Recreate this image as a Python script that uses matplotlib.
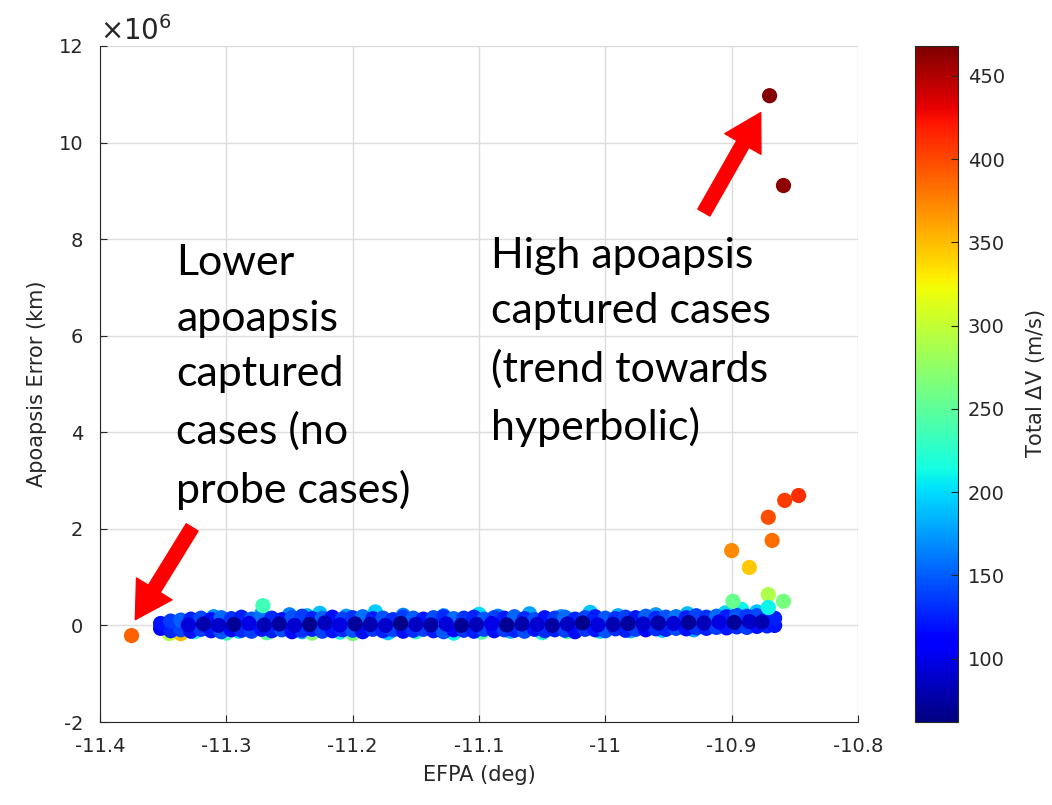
import matplotlib
matplotlib.use("Agg")
import matplotlib.pyplot as plt
from matplotlib.patches import FancyArrowPatch, ArrowStyle
import numpy as np

plt.rcParams["axes.unicode_minus"] = False

# ---- data (EFPA deg, apoapsis error in 1e6 km, total dV m/s) ----
# upper light-blue fringe of the band
x_top = [-11.310, -11.272, -11.250, -11.236, -11.226, -11.205, -11.182, -11.160, -11.128, -11.100,
         -11.085, -11.060, -11.035, -11.012, -10.990, -10.960, -10.935, -10.905, -10.892, -10.880, -10.872]
y_top = [0.18, 0.24, 0.22, 0.20, 0.25, 0.19, 0.28, 0.21, 0.20, 0.23,
         0.19, 0.24, 0.18, 0.27, 0.20, 0.22, 0.24, 0.26, 0.33, 0.28, 0.30]
c_top = [170, 180, 165, 185, 190, 172, 195, 168, 175, 200,
         166, 178, 170, 192, 182, 174, 186, 198, 210, 190, 188]

# lower cyan / green fringe
x_bot = [-11.345, -11.343, -11.338, -11.336, -11.325, -11.300, -11.290, -11.268, -11.240, -11.232,
         -11.210, -11.200, -11.172, -11.150, -11.120, -11.098, -11.075, -11.050, -11.030, -11.004,
         -10.980, -10.955, -10.930]
y_bot = [-0.17, -0.14, -0.10, -0.17, -0.13, -0.16, -0.12, -0.15, -0.13, -0.16,
         -0.14, -0.17, -0.15, -0.13, -0.16, -0.14, -0.12, -0.15, -0.13, -0.12,
         -0.11, -0.10, -0.09]
c_bot = [290, 310, 205, 350, 215, 240, 200, 250, 185, 270,
         220, 265, 195, 230, 210, 245, 190, 225, 255, 200,
         185, 195, 180]

# main blue band
x_band = [-11.352, -11.344, -11.336, -11.328, -11.320, -11.312, -11.304, -11.296, -11.288, -11.280,
          -11.272, -11.264, -11.256, -11.248, -11.240, -11.232, -11.224, -11.216, -11.208, -11.200,
          -11.192, -11.184, -11.176, -11.168, -11.160, -11.152, -11.144, -11.136, -11.128, -11.120,
          -11.112, -11.104, -11.096, -11.088, -11.080, -11.072, -11.064, -11.056, -11.048, -11.040,
          -11.032, -11.024, -11.016, -11.008, -11.000, -10.992, -10.984, -10.976, -10.968, -10.960,
          -10.952, -10.944, -10.936, -10.928, -10.920, -10.912, -10.904, -10.896, -10.888, -10.880,
          -10.872, -10.866]
y_lo = [-0.06, -0.11, -0.09, -0.12, -0.08, -0.11, -0.13, -0.09, -0.10, -0.12,
        -0.08, -0.11, -0.09, -0.13, -0.10, -0.08, -0.12, -0.11, -0.09, -0.10,
        -0.13, -0.08, -0.11, -0.09, -0.12, -0.10, -0.08, -0.11, -0.13, -0.09,
        -0.10, -0.12, -0.08, -0.11, -0.09, -0.10, -0.12, -0.08, -0.11, -0.09,
        -0.10, -0.13, -0.08, -0.09, -0.11, -0.07, -0.10, -0.08, -0.09, -0.07,
        -0.08, -0.06, -0.07, -0.05, -0.06, -0.04, -0.05, -0.03, -0.04, -0.02,
        -0.01, 0.00]
c_lo = [112, 128, 140, 118, 135, 122, 147, 115, 130, 138,
        120, 126, 143, 117, 133, 124, 139, 121, 129, 145,
        116, 134, 127, 141, 119, 131, 137, 123, 148, 114,
        132, 125, 140, 118, 136, 128, 144, 120, 130, 126,
        139, 117, 134, 122, 146, 129, 124, 137, 115, 131,
        127, 142, 119, 133, 125, 138, 121, 129, 135, 118,
        126, 120]
y_up = [0.04, 0.09, 0.11, 0.13, 0.15, 0.12, 0.16, 0.14, 0.17, 0.13,
        0.18, 0.15, 0.12, 0.16, 0.19, 0.14, 0.15, 0.17, 0.13, 0.16,
        0.18, 0.14, 0.15, 0.12, 0.17, 0.15, 0.13, 0.16, 0.18, 0.14,
        0.15, 0.17, 0.13, 0.16, 0.15, 0.18, 0.14, 0.12, 0.16, 0.15,
        0.17, 0.13, 0.16, 0.18, 0.15, 0.14, 0.17, 0.16, 0.19, 0.15,
        0.17, 0.18, 0.16, 0.20, 0.17, 0.19, 0.18, 0.21, 0.19, 0.20,
        0.18, 0.15]
c_up = [120, 135, 150, 128, 142, 118, 155, 132, 125, 148,
        160, 130, 122, 145, 138, 127, 152, 119, 140, 133,
        158, 124, 146, 131, 137, 150, 121, 143, 129, 156,
        134, 126, 148, 139, 123, 153, 130, 144, 120, 136,
        157, 128, 141, 125, 149, 133, 138, 122, 151, 129,
        145, 160, 127, 140, 132, 155, 124, 147, 135, 142,
        130, 125]

# dark navy core
x_core = [-11.330, -11.318, -11.306, -11.294, -11.282, -11.270, -11.258, -11.246, -11.234, -11.222,
          -11.210, -11.198, -11.186, -11.174, -11.162, -11.150, -11.138, -11.126, -11.114, -11.102,
          -11.090, -11.078, -11.066, -11.054, -11.042, -11.030, -11.018, -11.006, -10.994, -10.982,
          -10.970, -10.958, -10.946, -10.934, -10.922, -10.910, -10.898, -10.886, -10.876]
y_core = [0.01, 0.03, 0.00, 0.02, 0.04, 0.01, 0.03, 0.00, 0.02, 0.05,
          0.01, 0.03, 0.02, 0.00, 0.04, 0.02, 0.01, 0.03, 0.00, 0.02,
          0.04, 0.01, 0.03, 0.02, 0.00, 0.03, 0.05, 0.01, 0.02, 0.04,
          0.03, 0.05, 0.04, 0.06, 0.05, 0.07, 0.06, 0.08, 0.07]
c_core = [95, 78, 88, 70, 100, 82, 74, 92, 68, 85,
          97, 72, 80, 90, 66, 86, 76, 94, 71, 83,
          99, 69, 79, 91, 75, 87, 67, 96, 81, 73,
          89, 77, 93, 70, 84, 98, 72, 88, 80]

# isolated cases
x_out = [-11.375, -11.271, -10.870, -10.859, -10.847, -10.858, -10.871, -10.868, -10.900, -10.886,
         -10.871, -10.899, -10.859, -10.871]
y_out = [-0.21, 0.41, 10.97, 9.11, 2.69, 2.59, 2.24, 1.76, 1.55, 1.20,
         0.64, 0.50, 0.50, 0.37]
c_out = [390, 235, 465, 462, 412, 405, 398, 385, 372, 345,
         290, 255, 262, 210]

y_ticks = [-2, 0, 2, 4, 6, 8, 10, 12]
x_ticks = [-11.4, -11.3, -11.2, -11.1, -11.0, -10.9, -10.8]
x_tick_labels = ["-11.4", "-11.3", "-11.2", "-11.1", "-11", "-10.9", "-10.8"]
cb_ticks = [100, 150, 200, 250, 300, 350, 400, 450]

groups = [(x_top, y_top, c_top), (x_bot, y_bot, c_bot),
          (x_band, y_lo, c_lo), (x_band, y_up, c_up),
          (x_core, y_core, c_core), (x_out, y_out, c_out)]

cmin, cmax = 62, 468
txt_col = "#262626"

fig = plt.figure(figsize=(10.52, 8.05), dpi=100)
ax = fig.add_axes([0.095, 0.1031, 0.7206, 0.8398])
cax = fig.add_axes([0.8698, 0.1031, 0.0409, 0.8398])

for gx, gy, gc in groups:
    sc = ax.scatter(gx, np.array(gy) * 1e6, c=gc, cmap="jet", vmin=cmin, vmax=cmax,
                    s=120, linewidths=0, zorder=3)

ax.set_xlim(-11.4, -10.8)
ax.set_ylim(-2e6, 12e6)
ax.set_xticks(x_ticks)
ax.set_xticklabels(x_tick_labels)
ax.set_yticks(np.array(y_ticks) * 1e6)
ax.set_yticklabels([str(t) for t in y_ticks])
ax.text(0.0, 1.009, r"$\times10^6$", transform=ax.transAxes, fontsize=20,
        color=txt_col, ha="left", va="baseline")
ax.grid(True, color="#dcdcdc", linewidth=1.0, zorder=0)
ax.set_axisbelow(True)
for side in ["top", "right"]:
    ax.spines[side].set_visible(False)
for side in ["left", "bottom"]:
    ax.spines[side].set_color(txt_col)
ax.tick_params(direction="in", labelsize=14, colors=txt_col, length=5)
ax.tick_params(axis="x", pad=11)
ax.tick_params(axis="y", pad=12)
ax.set_xlabel("EFPA (deg)", fontsize=15, color=txt_col, labelpad=6)
ax.set_ylabel("Apoapsis Error (km)", fontsize=15, color=txt_col, labelpad=8)

cb = fig.colorbar(sc, cax=cax)
cb.set_ticks(cb_ticks)
cb.ax.tick_params(direction="in", labelsize=14, colors=txt_col, length=5, pad=7)
cb.outline.set_edgecolor(txt_col)
cb.set_label("Total $\\Delta$V (m/s)", fontsize=15, color=txt_col, labelpad=14)

# annotations
ax.text(-11.3395, 7.9e6, "Lower\napoapsis\ncaptured\ncases (no\nprobe cases)",
        fontsize=31, family="Lato", va="top", ha="left", linespacing=1.57, zorder=5)
ax.text(-11.0905, 8.05e6, "High apoapsis\ncaptured cases\n(trend towards\nhyperbolic)",
        fontsize=31, family="Lato", va="top", ha="left", linespacing=1.57, zorder=5)

style = ArrowStyle.Simple(head_length=26, head_width=30, tail_width=10)
for tail, head in [((-11.327, 2.03e6), (-11.372, 0.12e6)),
                   ((-10.922, 8.55e6), (-10.877, 10.62e6))]:
    arr = FancyArrowPatch(tail, head, arrowstyle=style, color="red",
                          mutation_scale=1, shrinkA=0, shrinkB=0, zorder=6)
    ax.add_patch(arr)

fig.savefig("out.png", dpi=100)
